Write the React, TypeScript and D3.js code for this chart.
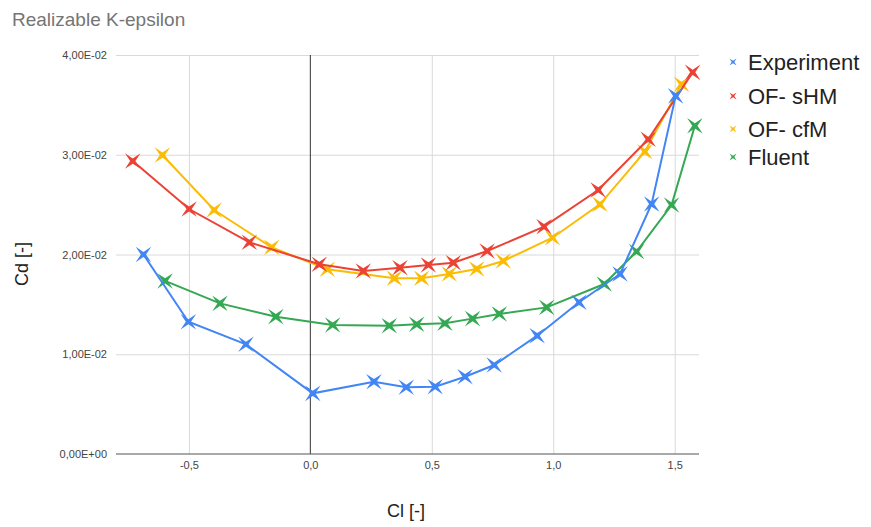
import { useEffect, useRef } from 'react';
import * as d3 from 'd3';

// Cl / Cd pairs
const expCl = [-0.687, -0.502, -0.265, 0.010, 0.262, 0.395, 0.514, 0.637, 0.757, 0.934, 1.106, 1.275, 1.405, 1.504];
const expCd = [0.0200, 0.01326, 0.01100, 0.00608, 0.00725, 0.00669, 0.00675, 0.00775, 0.00892, 0.01186, 0.01521, 0.01805, 0.02506, 0.0359];

const shmCl = [-0.731, -0.499, -0.251, 0.037, 0.218, 0.369, 0.486, 0.589, 0.728, 0.962, 1.185, 1.391, 1.574];
const shmCd = [0.02937, 0.02456, 0.02122, 0.01902, 0.01835, 0.01868, 0.01895, 0.01918, 0.02035, 0.02279, 0.02647, 0.03155, 0.03826];

const cfmCl = [-0.609, -0.396, -0.159, 0.070, 0.346, 0.458, 0.572, 0.685, 0.794, 0.997, 1.192, 1.377, 1.528];
const cfmCd = [0.02997, 0.02446, 0.02072, 0.01852, 0.01761, 0.01761, 0.01805, 0.01855, 0.01935, 0.02168, 0.02503, 0.03031, 0.03706];

const fluentCl = [-0.598, -0.372, -0.142, 0.092, 0.325, 0.438, 0.554, 0.668, 0.778, 0.973, 1.210, 1.343, 1.487, 1.583];
const fluentCd = [0.01735, 0.0151, 0.01377, 0.01293, 0.01286, 0.0130, 0.0131, 0.01357, 0.01404, 0.0147, 0.01704, 0.0203, 0.02496, 0.0329];

const seriesNames = ['Experiment', 'OF- sHM', 'OF- cfM', 'Fluent'];
const seriesColors = ['#4285f4', '#ea4335', '#fbbc04', '#34a853'];

const xTicks = [-0.5, 0, 0.5, 1.0, 1.5];
const yTicks = [0, 0.01, 0.02, 0.03, 0.04];

function starPath(r: number, ri: number) {
  const pts: [number, number][] = [];
  for (let i = 0; i < 8; i++) {
    const a = (Math.PI / 4) * i + Math.PI / 4;
    const rad = i % 2 === 0 ? r : ri;
    pts.push([Math.cos(a) * rad, Math.sin(a) * rad]);
  }
  return 'M' + pts.map(p => p[0].toFixed(2) + ',' + p[1].toFixed(2)).join('L') + 'Z';
}

function fmtY(d: number) {
  if (d === 0) return '0,00E+00';
  const e = Math.floor(Math.log10(d));
  const m = d / Math.pow(10, e);
  const sign = e < 0 ? '-' : '+';
  return m.toFixed(2).replace('.', ',') + 'E' + sign + String(Math.abs(e)).padStart(2, '0');
}

export default function App() {
  const ref = useRef<SVGSVGElement>(null);

  useEffect(() => {
    const svg = d3.select(ref.current);
    svg.selectAll('*').remove();

    const W = 871, H = 527;
    const left = 116, right = 699, top = 55, bottom = 454;
    const font = 'Arial, "Liberation Sans", sans-serif';

    const x = d3.scaleLinear().domain([-0.8, 1.6]).range([left, right]);
    const y = d3.scaleLinear().domain([0, 0.04]).range([bottom, top]);

    svg.append('rect').attr('width', W).attr('height', H).attr('fill', '#fff');

    svg.append('text')
      .attr('x', 12).attr('y', 26)
      .style('font-family', font).style('font-size', '19px')
      .attr('fill', '#757575')
      .text('Realizable K-epsilon');

    // grid
    svg.append('g')
      .attr('transform', `translate(${left},0)`)
      .call(d3.axisLeft(y).tickValues(yTicks.filter(t => t > 0)).tickSize(-(right - left)).tickFormat(() => ''))
      .call(g => g.select('.domain').remove())
      .call(g => g.selectAll('.tick line').attr('stroke', '#d9d9d9'));

    svg.append('g')
      .attr('transform', `translate(0,${bottom})`)
      .call(d3.axisBottom(x).tickValues(xTicks.filter(t => t !== 0)).tickSize(-(bottom - top)).tickFormat(() => ''))
      .call(g => g.select('.domain').remove())
      .call(g => g.selectAll('.tick line').attr('stroke', '#d9d9d9'));

    // zero lines
    svg.append('line')
      .attr('x1', x(0)).attr('x2', x(0)).attr('y1', top).attr('y2', bottom)
      .attr('stroke', '#333').attr('stroke-width', 1);
    svg.append('line')
      .attr('x1', left).attr('x2', right).attr('y1', y(0)).attr('y2', y(0))
      .attr('stroke', '#555').attr('stroke-width', 1.2);

    // tick labels
    svg.append('g')
      .attr('transform', `translate(${left - 6},0)`)
      .call(d3.axisLeft(y).tickValues(yTicks).tickSize(0).tickFormat(d => fmtY(+d)))
      .call(g => g.select('.domain').remove())
      .selectAll('text')
      .attr('fill', '#444')
      .style('font-family', font).style('font-size', '11px');

    svg.append('g')
      .attr('transform', `translate(0,${bottom + 4})`)
      .call(d3.axisBottom(x).tickValues(xTicks).tickSize(0).tickFormat(d => d3.format('.1f')(+d).replace('.', ',').replace('−', '-')))
      .call(g => g.select('.domain').remove())
      .selectAll('text')
      .attr('fill', '#444')
      .style('font-family', font).style('font-size', '11px');

    // axis titles
    svg.append('text')
      .attr('x', 406).attr('y', 517).attr('text-anchor', 'middle')
      .style('font-family', font).style('font-size', '18px')
      .attr('fill', '#222')
      .text('Cl [-]');
    svg.append('text')
      .attr('transform', 'translate(28,264) rotate(-90)').attr('text-anchor', 'middle')
      .style('font-family', font).style('font-size', '18px')
      .attr('fill', '#222')
      .text('Cd [-]');

    const series = [
      { xs: expCl, ys: expCd },
      { xs: shmCl, ys: shmCd },
      { xs: cfmCl, ys: cfmCd },
      { xs: fluentCl, ys: fluentCd },
    ].map((s, i) => ({
      name: seriesNames[i],
      color: seriesColors[i],
      pts: s.xs.map((v, j) => [v, s.ys[j]] as [number, number]),
    }));

    const line = d3.line<[number, number]>().x(d => x(d[0])).y(d => y(d[1]));
    const marker = starPath(11, 2.6);

    [...series].reverse().forEach(s => {
      const g = svg.append('g');
      g.append('path').attr('d', line(s.pts))
        .attr('fill', 'none').attr('stroke', s.color).attr('stroke-width', 2);
      g.selectAll('path.m').data(s.pts).enter().append('path').attr('class', 'm')
        .attr('d', marker)
        .attr('transform', d => `translate(${x(d[0])},${y(d[1])})`)
        .attr('fill', s.color);
    });

    // legend
    const legendY = [62, 96, 129, 157];
    const small = starPath(5, 1.3);
    series.forEach((s, i) => {
      svg.append('path').attr('d', small)
        .attr('transform', `translate(733,${legendY[i]})`)
        .attr('fill', s.color);
      svg.append('text')
        .attr('x', 748).attr('y', legendY[i]).attr('dy', '0.36em')
        .style('font-family', font).style('font-size', '22px')
        .attr('fill', '#222')
        .text(s.name);
    });
  }, []);

  return (
    <div>
      <style>{'body{margin:0}'}</style>
      <svg ref={ref} width={871} height={527} style={{ display: 'block' }} />
    </div>
  );
}
